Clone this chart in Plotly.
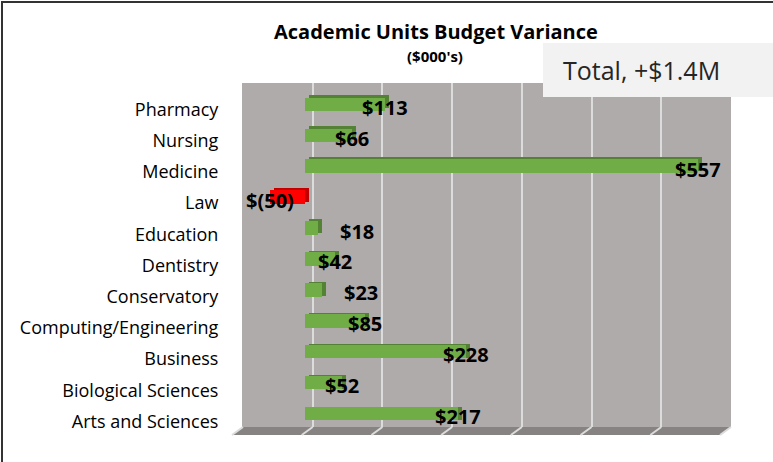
import plotly.graph_objects as go

W, H = 773, 462

categories = ["Pharmacy", "Nursing", "Medicine", "Law", "Education", "Dentistry",
              "Conservatory", "Computing/Engineering", "Business",
              "Biological Sciences", "Arts and Sciences"]
values = [113, 66, 557, -50, 18, 42, 23, 85, 228, 52, 217]
labels = ["$113", "$66", "$557", "$(50)", "$18", "$42", "$23", "$85", "$228", "$52", "$217"]
x_ticks = [-100, 0, 100, 200, 300, 400, 500, 600]

title = "Academic Units Budget Variance"
subtitle = "($000's)"
total_text = "Total, +$1.4M"

FONT = "Open Sans"

def px(x):
    return x / W

def py(y):
    return (H - y) / H

# geometry (pixels)
BACK_L, BACK_R, BACK_T, BACK_B = 243, 731, 83, 427
FRONT_L, FRONT_R, FRONT_T, FRONT_B = 235, 728, 89, 432
DX, DY = 4, 3   # bar depth offset
LAB_DY = 5      # category labels sit slightly below bar centres

front_face = ["#70AD47" if v >= 0 else "#FF0000" for v in values]
side_face = ["#548235" if v >= 0 else "#C00000" for v in values]

fig = go.Figure()

# invisible trace to keep the back-plane subplot alive
fig.add_trace(go.Scatter(x=[x_ticks[0], x_ticks[-1]], y=[0, 1], mode="markers",
                         marker=dict(opacity=0), hoverinfo="skip", showlegend=False,
                         xaxis="x", yaxis="y"))
# back (depth) faces of the bars
fig.add_trace(go.Bar(
    y=categories, x=values, orientation="h", xaxis="x2", yaxis="y2",
    marker=dict(color=side_face, line=dict(width=0)), width=0.44,
    hoverinfo="skip", showlegend=False))
# front faces
fig.add_trace(go.Bar(
    y=categories, x=values, orientation="h", xaxis="x3", yaxis="y3",
    marker=dict(color=front_face, line=dict(width=0)), width=0.44,
    showlegend=False))
# category label carrier (invisible)
fig.add_trace(go.Bar(
    y=categories, x=values, orientation="h", xaxis="x4", yaxis="y4",
    marker=dict(color="rgba(0,0,0,0)", line=dict(width=0)), width=0.44,
    hoverinfo="skip", showlegend=False))

common_x = dict(range=[x_ticks[0], x_ticks[-1]], showticklabels=False,
                zeroline=False, showline=False, ticks="", fixedrange=True)
cat_y = dict(type="category", categoryorder="array", categoryarray=categories[::-1],
             showgrid=False, zeroline=False, showline=False, fixedrange=True)
fig.update_layout(
    width=W, height=H, margin=dict(l=0, r=0, t=0, b=0),
    paper_bgcolor="white", plot_bgcolor="rgba(0,0,0,0)",
    font=dict(family=FONT, color="black"),
    showlegend=False, bargap=0,
    xaxis=dict(domain=[px(BACK_L), px(BACK_R)], showgrid=True, gridcolor="#DCDCDC",
               gridwidth=2, tickvals=x_ticks, anchor="y", **common_x),
    yaxis=dict(domain=[py(BACK_B), py(BACK_T)], range=[0, 1], visible=False,
               anchor="x", fixedrange=True),
    xaxis2=dict(domain=[px(FRONT_L + DX), px(FRONT_R + DX)], anchor="y2",
                showgrid=False, **common_x),
    yaxis2=dict(domain=[py(FRONT_B - DY), py(FRONT_T - DY)], anchor="x2",
                visible=False, **cat_y),
    xaxis3=dict(domain=[px(FRONT_L), px(FRONT_R)], anchor="y3",
                showgrid=False, **common_x),
    yaxis3=dict(domain=[py(FRONT_B), py(FRONT_T)], anchor="x3",
                showticklabels=False, ticks="", **cat_y),
    xaxis4=dict(domain=[px(FRONT_L), px(FRONT_R)], anchor="y4",
                showgrid=False, **common_x),
    yaxis4=dict(domain=[py(FRONT_B + LAB_DY), py(FRONT_T + LAB_DY)], anchor="x4",
                ticks="outside", ticklen=12, tickcolor="rgba(0,0,0,0)",
                tickfont=dict(family=FONT, size=18, color="black"), **cat_y),
)

shapes = []
# back wall
shapes.append(dict(type="rect", xref="paper", yref="paper",
                   x0=px(BACK_L - 1), x1=px(BACK_R), y0=py(BACK_B), y1=py(BACK_T),
                   fillcolor="#AFABAB", line=dict(width=0), layer="below"))
# floor
shapes.append(dict(type="path", xref="paper", yref="paper",
                   path=f"M {px(BACK_L)} {py(BACK_B)} L {px(BACK_R)} {py(BACK_B)} "
                        f"L {px(BACK_R - 11)} {py(435)} L {px(BACK_L - 11)} {py(435)} Z",
                   fillcolor="#878383", line=dict(width=0), layer="below"))
# floor grid lines
for t in x_ticks:
    gx = BACK_L + (t - x_ticks[0]) / (x_ticks[-1] - x_ticks[0]) * (BACK_R - BACK_L)
    shapes.append(dict(type="line", xref="paper", yref="paper",
                       x0=px(gx), y0=py(BACK_B), x1=px(gx - 11), y1=py(435),
                       line=dict(color="#DCDCDC", width=2), layer="below"))
# total box
shapes.append(dict(type="rect", xref="paper", yref="paper",
                   x0=px(543), x1=px(773), y0=py(97), y1=py(43),
                   fillcolor="#F2F2F2", line=dict(width=0), layer="above"))
# outer border (top and left edges visible)
shapes.append(dict(type="line", xref="paper", yref="paper",
                   x0=px(1), x1=px(773), y0=py(2), y1=py(2),
                   line=dict(color="#333333", width=2), layer="above"))
shapes.append(dict(type="line", xref="paper", yref="paper",
                   x0=px(2), x1=px(2), y0=py(1), y1=py(462),
                   line=dict(color="#333333", width=2), layer="above"))
fig.update_layout(shapes=shapes)

ann = []
for c, v, lab in zip(categories, values, labels):
    if 0 <= v < 30:
        ann.append(dict(x=v, y=c, xref="x3", yref="y3", text=f"<b>{lab}</b>",
                        showarrow=False, xanchor="left", yanchor="middle",
                        xshift=20, yshift=-3,
                        font=dict(family=FONT, size=20, color="black")))
    else:
        ann.append(dict(x=v, y=c, xref="x3", yref="y3", text=f"<b>{lab}</b>",
                        showarrow=False, xanchor="center", yanchor="middle", yshift=-3,
                        font=dict(family=FONT, size=20, color="black")))
ann.append(dict(x=px(436), y=py(31), xref="paper", yref="paper",
                text=f"<b>{title}</b>", showarrow=False, xanchor="center", yanchor="middle",
                font=dict(family=FONT, size=20, color="black")))
ann.append(dict(x=px(435), y=py(56), xref="paper", yref="paper",
                text=f"<b>{subtitle}</b>", showarrow=False, xanchor="center", yanchor="middle",
                font=dict(family=FONT, size=15, color="black")))
ann.append(dict(x=px(641), y=py(70), xref="paper", yref="paper",
                text=total_text, showarrow=False, xanchor="center", yanchor="middle",
                font=dict(family=FONT, size=25, color="#262626")))
fig.update_layout(annotations=ann)

fig.write_html("out.html", config={"displayModeBar": False},
               post_script="document.body.style.margin='0';")
